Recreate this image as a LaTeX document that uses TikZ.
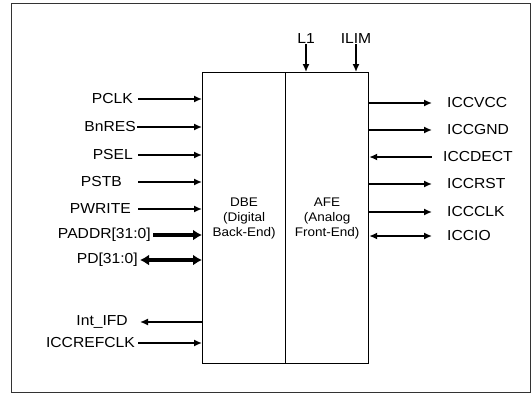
\documentclass[tikz,border=0pt]{standalone}
\usepackage{fontspec}
\setmainfont[FakeStretch=1.08]{Liberation Sans}
\usetikzlibrary{arrows.meta}

\begin{document}
\begin{tikzpicture}[
  x=1pt, y=-1pt,
  blk/.style={draw, line width=1.2pt, minimum width=83pt, minimum height=291pt, inner sep=0pt,
    align=center, font=\fontsize{12.5}{15}\selectfont},
  lbl/.style={inner sep=0pt, font=\fontsize{14.5}{16}\selectfont},
  sig/.style={line width=1.5pt},
  sigin/.style={sig, -{Latex[length=8pt,width=7pt]}},
  sigout/.style={sig, {Latex[length=8pt,width=7pt]}-},
  sigio/.style={sig, {Latex[length=8pt,width=7pt]}-{Latex[length=8pt,width=7pt]}},
  bus/.style={line width=3.5pt, -{Latex[length=9pt,width=11pt]}},
  busio/.style={line width=3.5pt, {Latex[length=9pt,width=11pt]}-{Latex[length=9pt,width=11pt]}},
]
\useasboundingbox (0,0) rectangle (532,394);

% --- Frame ---
\draw[line width=0.8pt, black!80] (11,3) rectangle (530,392);

% --- Blocks ---
\node[blk, anchor=north west] (dbe) at (202,72) {DBE\\(Digital\\Back-End)};
\node[blk, anchor=north west] (afe) at (285,72) {AFE\\(Analog\\Front-End)};

% --- Left side (name/text/y/label x/start x/style) ---
\foreach \n/\t/\y/\lx/\sx/\s in {pclk/PCLK/99/133/138/sigin, bnres/BnRES/127/136/137/sigin,
    psel/PSEL/155/133/138/sigin, pstb/PSTB/182/122/138/sigin, pwrite/PWRITE/209/131/138/sigin,
    paddr/{PADDR[31:0]}/235/151/153/bus, pd/{PD[31:0]}/260/138/140/busio,
    intifd/{Int\_IFD}/322/128/140/sigout, iccref/ICCREFCLK/343/135/138/sigin} {
  \node[lbl, anchor=east] (\n) at (\lx,\y) {\t};
  \coordinate (\n s) at (\sx,\y);
  \draw[\s] (\n s) -- (dbe.west |- \n s);
}

% --- Right side ---
\foreach \n/\t/\y/\lx/\s in {vcc/ICCVCC/103/447/sigin, gnd/ICCGND/130/447/sigin,
    dect/ICCDECT/157/443/sigout, rst/ICCRST/184/447/sigin, clk/ICCCLK/212/447/sigin,
    iccio/ICCIO/236/447/sigio} {
  \node[lbl, anchor=west] (\n) at (\lx,\y) {\t};
  \coordinate (\n e) at (432,\y);
  \draw[\s] (afe.east |- \n e) -- (\n e);
}

% --- Top ---
\foreach \n/\t/\x in {lone/L1/306, ilim/ILIM/356} {
  \node[lbl, anchor=south] (\n) at (\x,44) {\t};
  \draw[sigin] (\n.south) -- (\n.south |- afe.north);
}

\end{tikzpicture}
\end{document}
